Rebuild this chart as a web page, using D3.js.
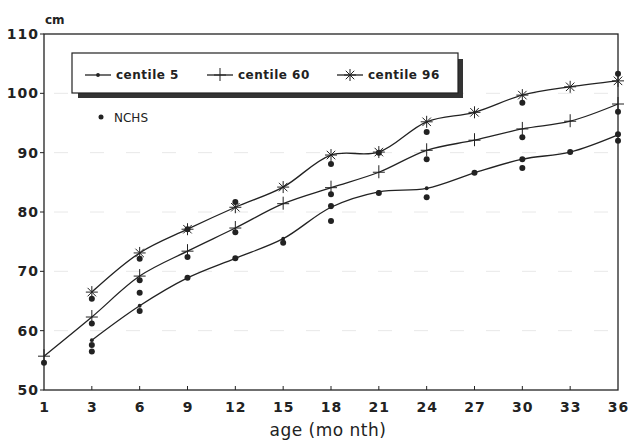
<!DOCTYPE html>
<html lang="en">
<head>
  <meta charset="UTF-8">
  <title>height centiles</title>
  <script src="https://d3js.org/d3.v7.min.js"></script>
  <style>
    body { margin: 0; background: white; }
    svg { font-family: "DejaVu Sans", "Liberation Sans", Arial, sans-serif; }
    .tick-label { font-size: 14px; font-weight: bold; fill: #222; letter-spacing: 1px; }
    .legend-text { font-size: 12px; font-weight: bold; fill: #222; letter-spacing: 0.5px; }
    .curve { fill: none; stroke: #222; stroke-width: 1.3px; }
    .mark { stroke: #222; stroke-width: 1px; fill: none; }
  </style>
</head>
<body>
<svg id="svg" width="628" height="441"></svg>
<script>
// data
const months = [1, 3, 6, 9, 12, 15, 18, 21, 24, 27, 30, 33, 36];
const yTicks = [50, 60, 70, 80, 90, 100, 110];

const c5Months  = [3, 6, 9, 12, 15, 18, 21, 24, 27, 30, 33, 36];
const c5Values  = [58.4, 64.2, 68.9, 72.2, 75.5, 80.8, 83.4, 84.0, 86.6, 88.9, 90.1, 93.0];

const c50Months = [1, 3, 6, 9, 12, 15, 18, 21, 24, 27, 30, 33, 36];
const c50Values = [55.7, 62.3, 69.2, 73.4, 77.3, 81.4, 84.1, 86.7, 90.4, 92.1, 94.0, 95.3, 98.2];

const c95Months = [3, 6, 9, 12, 15, 18, 21, 24, 27, 30, 33, 36];
const c95Values = [66.5, 73.1, 77.1, 80.8, 84.2, 89.6, 90.1, 95.2, 96.8, 99.7, 101.1, 102.1];

const nchsMonths = [1, 3, 3, 3, 3, 6, 6, 6, 6, 9, 9, 9, 12, 12, 12, 15,
                    18, 18, 18, 18, 21, 21, 24, 24, 24, 27, 30, 30, 30, 30, 33, 36, 36, 36, 36];
const nchsValues = [54.6, 65.4, 61.2, 57.6, 56.5, 72.1, 68.5, 66.4, 63.3, 77.1, 72.4, 68.9, 81.7, 76.6, 72.2, 74.8,
                    88.1, 83.0, 81.0, 78.5, 90.0, 83.2, 93.5, 88.9, 82.5, 86.6, 98.4, 92.6, 88.9, 87.4, 90.1, 103.3, 96.9, 93.1, 92.0];

const legendLabels = ["centile 5", "centile 60", "centile 96"];

// scales
const plotLeft = 44, plotRight = 618, plotTop = 34, plotBottom = 390;
const x = d3.scalePoint().domain(months).range([plotLeft, plotRight]);
const y = d3.scaleLinear().domain([50, 110]).range([plotBottom, plotTop]);

const svg = d3.select("#svg");

// faint scan grid streaks
svg.append("g").selectAll("line")
  .data(yTicks.filter(d => d > 50 && d < 110))
  .join("line")
  .attr("x1", plotLeft + 10).attr("x2", plotRight - 10)
  .attr("y1", d => y(d)).attr("y2", d => y(d))
  .attr("stroke", "#e8e8e8").attr("stroke-width", 1)
  .attr("stroke-dasharray", "14,22");

// frame
svg.append("rect")
  .attr("x", plotLeft).attr("y", plotTop)
  .attr("width", plotRight - plotLeft).attr("height", plotBottom - plotTop)
  .attr("fill", "none").attr("stroke", "#222").attr("stroke-width", 1.3);

// x ticks + labels
const xg = svg.append("g");
xg.selectAll("line").data(months.slice(1, -1)).join("line")
  .attr("x1", d => x(d)).attr("x2", d => x(d))
  .attr("y1", plotBottom).attr("y2", plotBottom - 4)
  .attr("stroke", "#222");
xg.selectAll("text").data(months).join("text")
  .attr("class", "tick-label")
  .attr("x", d => x(d) + 0.5).attr("y", plotBottom + 22)
  .attr("text-anchor", "middle")
  .text(d => d);

// y ticks + labels
const yg = svg.append("g");
yg.selectAll("line").data(yTicks).join("line")
  .attr("x1", plotLeft - 4).attr("x2", plotLeft)
  .attr("y1", d => y(d)).attr("y2", d => y(d))
  .attr("stroke", "#222");
yg.selectAll("text").data(yTicks).join("text")
  .attr("class", "tick-label")
  .attr("x", plotLeft - 5).attr("y", d => y(d) + 5)
  .attr("text-anchor", "end")
  .text(d => d);

svg.append("text").attr("x", plotLeft + 1).attr("y", 24)
  .attr("font-size", 12).attr("font-weight", "bold").attr("fill", "#222")
  .text("cm");

svg.append("text").attr("x", 328).attr("y", 436)
  .attr("text-anchor", "middle").attr("font-size", 17).attr("fill", "#222")
  .attr("letter-spacing", 0.5)
  .text("age (mo nth)");

// markers
function dotMark(g) {
  g.append("circle").attr("r", 1.9).attr("fill", "#222");
}
function plusMark(g) {
  g.append("line").attr("class", "mark").attr("x1", -6).attr("x2", 6);
  g.append("line").attr("class", "mark").attr("y1", -7).attr("y2", 6);
}
function starMark(g) {
  [0, 45, 90, 135].forEach(a => {
    const r = a * Math.PI / 180;
    g.append("line").attr("class", "mark").attr("stroke-width", 0.8).attr("stroke", "#444")
      .attr("x1", -6 * Math.cos(r)).attr("y1", -6 * Math.sin(r))
      .attr("x2", 6 * Math.cos(r)).attr("y2", 6 * Math.sin(r));
  });
}

const line = d3.line().x(d => x(d[0])).y(d => y(d[1])).curve(d3.curveCatmullRom.alpha(0.5));

const series = [
  { m: c5Months, v: c5Values, mark: dotMark },
  { m: c50Months, v: c50Values, mark: plusMark },
  { m: c95Months, v: c95Values, mark: starMark }
];

series.forEach(s => {
  const pts = s.m.map((m, i) => [m, s.v[i]]);
  svg.append("path").attr("class", "curve").attr("d", line(pts));
  svg.append("g").selectAll("g").data(pts).join("g")
    .attr("transform", d => `translate(${x(d[0])},${y(d[1])})`)
    .each(function() { s.mark(d3.select(this)); });
});

// NCHS points
svg.append("g").selectAll("circle")
  .data(nchsMonths.map((m, i) => [m, nchsValues[i]]))
  .join("circle")
  .attr("cx", d => x(d[0])).attr("cy", d => y(d[1]))
  .attr("r", 3).attr("fill", "#222");

// legend
const lg = svg.append("g");
lg.append("rect").attr("x", 78).attr("y", 93).attr("width", 385).attr("height", 5).attr("fill", "#333");
lg.append("rect").attr("x", 458).attr("y", 59).attr("width", 5).attr("height", 39).attr("fill", "#333");
lg.append("rect").attr("x", 72).attr("y", 53).attr("width", 386).attr("height", 40)
  .attr("fill", "white").attr("stroke", "#222").attr("stroke-width", 1.2);

const legendX = [85, 207, 337];
series.forEach((s, i) => {
  const g = lg.append("g");
  g.append("line").attr("class", "curve").attr("x1", legendX[i]).attr("x2", legendX[i] + 26)
    .attr("y1", 75).attr("y2", 75);
  const m = g.append("g").attr("transform", `translate(${legendX[i] + 13},75)`);
  s.mark(m);
  g.append("text").attr("class", "legend-text")
    .attr("x", legendX[i] + 31).attr("y", 79)
    .text(legendLabels[i]);
});

svg.append("circle").attr("cx", 101).attr("cy", 117).attr("r", 2.5).attr("fill", "#222");
svg.append("text").attr("x", 114).attr("y", 122)
  .attr("font-size", 12).attr("fill", "#222").text("NCHS");
</script>
</body>
</html>
